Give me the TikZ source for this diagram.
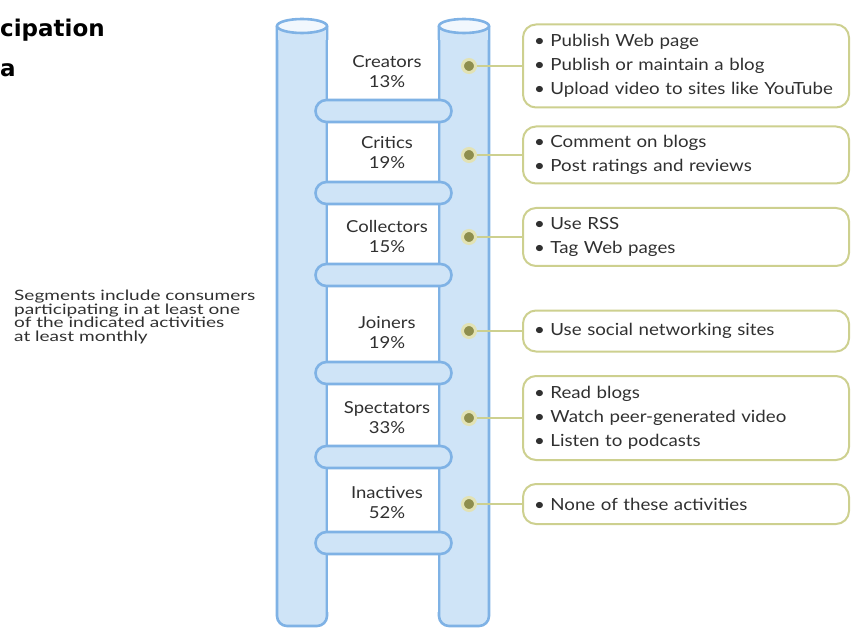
\documentclass[tikz,border=0pt]{standalone}
\usepackage{fontspec}
\setmainfont{Lato}[FakeStretch=1.12]
\newfontfamily\notefont{Lato}[FakeStretch=1.33]
\newfontfamily\titlefont{DejaVu Sans}
\definecolor{poleline}{HTML}{7FB2E5}
\definecolor{polefill}{HTML}{CFE4F7}
\definecolor{boxline}{HTML}{CDD08F}
\definecolor{dotfill}{HTML}{8E8E4E}
\definecolor{dotring}{HTML}{E2E2B4}
\definecolor{txt}{HTML}{303030}
\begin{document}
\begin{tikzpicture}[x=1pt,y=-1pt,
  pole/.style={draw=poleline,fill=polefill,line width=2.6pt},
  rung/.style={rectangle,draw=poleline,fill=polefill,line width=2.6pt,
    rounded corners=11pt,minimum width=136pt,minimum height=22pt},
  segment/.style={align=center,text=txt,font=\fontsize{16.5}{20}\selectfont},
  dot/.style={circle,draw=dotring,fill=dotfill,line width=3pt,
    minimum size=13pt,inner sep=0},
  activity/.style={rectangle,draw=boxline,line width=2pt,rounded corners=13pt,
    anchor=west,minimum width=326pt,text width=304pt,align=left,inner xsep=11pt,
    text=txt,font=\fontsize{16.7}{24}\selectfont},
  link/.style={draw=boxline,line width=1.6pt}]
  \useasboundingbox (0,0) rectangle (851,628);
  % title (cut off at the left)
  \node[anchor=west,inner sep=0,font=\titlefont\bfseries\fontsize{23}{26}\selectfont]
    (title1) at (0,30) {cipation};
  \node[anchor=west,inner sep=0,font=\titlefont\bfseries\fontsize{23}{26}\selectfont]
    (title2) at (0,70) {a};
  % note
  \node[anchor=west,align=left,inner sep=0,text=txt,
    font=\notefont\fontsize{14.3}{13.5}\selectfont] (note) at (14,317)
    {Segments include consumers\\participating in at least one\\of the indicated activities\\at least monthly};
  % poles
  \draw[pole,rounded corners=10pt] (277,26) -- (277,626) -- (327,626) -- (327,26);
  \fill[polefill] (278,26) rectangle (326,40);
  \draw[pole,fill=white!70!polefill] (302,26) ellipse [x radius=25, y radius=7];
  \draw[pole,rounded corners=10pt] (439,26) -- (439,626) -- (489,626) -- (489,26);
  \fill[polefill] (440,26) rectangle (488,40);
  \draw[pole,fill=white!70!polefill] (464,26) ellipse [x radius=25, y radius=7];
  \fill[white] (328.3,40) rectangle (437.7,612);
  % rungs
  \node[rung] (r1) at (383.5,111) {};
  \node[rung] (r2) at (383.5,193) {};
  \node[rung] (r3) at (383.5,275) {};
  \node[rung] (r4) at (383.5,373) {};
  \node[rung] (r5) at (383.5,457) {};
  \node[rung] (r6) at (383.5,543) {};
  % segments
  \node[segment] (creators) at (387,72) {Creators\\13\%};
  \node[segment] (critics) at (387,153) {Critics\\19\%};
  \node[segment] (collectors) at (387,236) {Collectors\\15\%};
  \node[segment] (joiners) at (387,333) {Joiners\\19\%};
  \node[segment] (spectators) at (387,418) {Spectators\\33\%};
  \node[segment] (inactives) at (387,503) {Inactives\\52\%};
  % dots
  \node[dot] (d1) at (469,66) {};
  \node[dot] (d2) at (469,155) {};
  \node[dot] (d3) at (469,237) {};
  \node[dot] (d4) at (469,331) {};
  \node[dot] (d5) at (469,418) {};
  \node[dot] (d6) at (469,504) {};
  % activities
  \node[activity,minimum height=83pt] (a1) at (522,66)
    {• Publish Web page\\• Publish or maintain a blog\\• Upload video to sites like YouTube};
  \node[activity,minimum height=57pt] (a2) at (522,155)
    {• Comment on blogs\\• Post ratings and reviews};
  \node[activity,minimum height=58pt] (a3) at (522,237)
    {• Use RSS\\• Tag Web pages};
  \node[activity,minimum height=41pt] (a4) at (522,331)
    {• Use social networking sites};
  \node[activity,minimum height=84pt] (a5) at (522,418)
    {• Read blogs\\• Watch peer-generated video\\• Listen to podcasts};
  \node[activity,minimum height=40pt] (a6) at (522,504)
    {• None of these activities};
  \draw[link] (d1) -- (a1);
  \draw[link] (d2) -- (a2);
  \draw[link] (d3) -- (a3);
  \draw[link] (d4) -- (a4);
  \draw[link] (d5) -- (a5);
  \draw[link] (d6) -- (a6);
\end{tikzpicture}
\end{document}
